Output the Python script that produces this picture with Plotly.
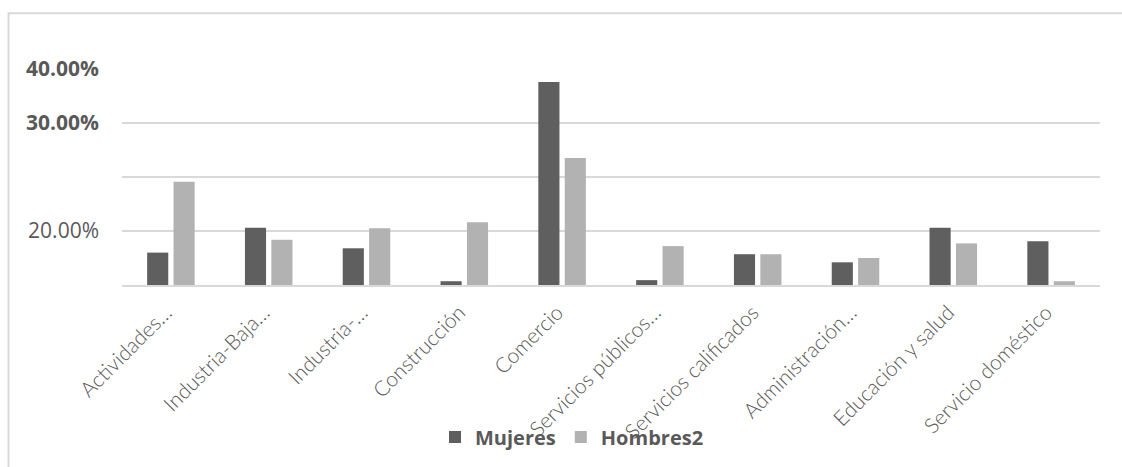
import plotly.graph_objects as go

categories = ["Actividades…", "Industria-Baja…", "Industria-…", "Construcción", "Comercio",
              "Servicios públicos…", "Servicios calificados", "Administración…",
              "Educación y salud", "Servicio doméstico"]
mujeres = [6.0, 10.6, 6.8, 0.7, 37.6, 0.9, 5.7, 4.2, 10.6, 8.1]
hombres2 = [19.1, 8.4, 10.5, 11.6, 23.5, 7.2, 5.7, 5.0, 7.7, 0.7]
tick_vals = [0, 10, 20, 30, 40]
tick_text = ["", "20.00%", "", "<b>30.00%</b>", "<b>40.00%</b>"]

W, H = 1122, 467
L, R, T, B = 122, 22, 69, 181
pw = W - L - R
ph = H - T - B

fig = go.Figure()
fig.add_trace(go.Bar(x=categories, y=mujeres, name="<b>Mujeres</b>", marker_color="#5f5f5f",
                     marker_line_width=0))
fig.add_trace(go.Bar(x=categories, y=hombres2, name="<b>Hombres2</b>", marker_color="#b2b2b2",
                     marker_line_width=0))

def px_x(x):
    return (x - L) / pw

def px_y(y):
    return (H - B - y) / ph

fig.update_layout(
    width=W, height=H,
    margin=dict(l=L, r=R, t=T, b=B, pad=0),
    paper_bgcolor="white", plot_bgcolor="white",
    barmode="group", bargap=0.46, bargroupgap=0.2,
    font=dict(family="Open Sans", color="#595959"),
    showlegend=True,
    legend=dict(orientation="h", x=px_x(572), xanchor="center", y=px_y(437), yanchor="middle",
                font=dict(size=20, color="#595959"), bgcolor="rgba(0,0,0,0)",
                itemwidth=30, tracegroupgap=0),
    xaxis=dict(tickangle=-45, tickfont=dict(family="Lato", size=21, weight=300, color="#595959"),
               showgrid=False,
               showline=True, linecolor="#d9d9d9", linewidth=2, ticks="", automargin=False,
               ticklabelstandoff=5, ticklabelshift=-5),
    yaxis=dict(range=[0, 40], tickvals=tick_vals, ticktext=tick_text,
               showgrid=True, gridcolor="#d9d9d9", gridwidth=2, zeroline=False,
               tickfont=dict(size=21, color="#595959"), ticklabelstandoff=22, ticks="",
               automargin=False, showline=False),
    shapes=[
        dict(type="line", xref="paper", yref="paper", x0=px_x(8.5), x1=px_x(8.5),
             y0=px_y(12), y1=px_y(470), line=dict(color="#d9d9d9", width=2)),
        dict(type="line", xref="paper", yref="paper", x0=px_x(8.5), x1=px_x(1124),
             y0=px_y(13), y1=px_y(13), line=dict(color="#d9d9d9", width=2)),
    ],
)

fig.write_html("out.html", config={"displayModeBar": False},
               post_script="document.body.style.margin='0';")
